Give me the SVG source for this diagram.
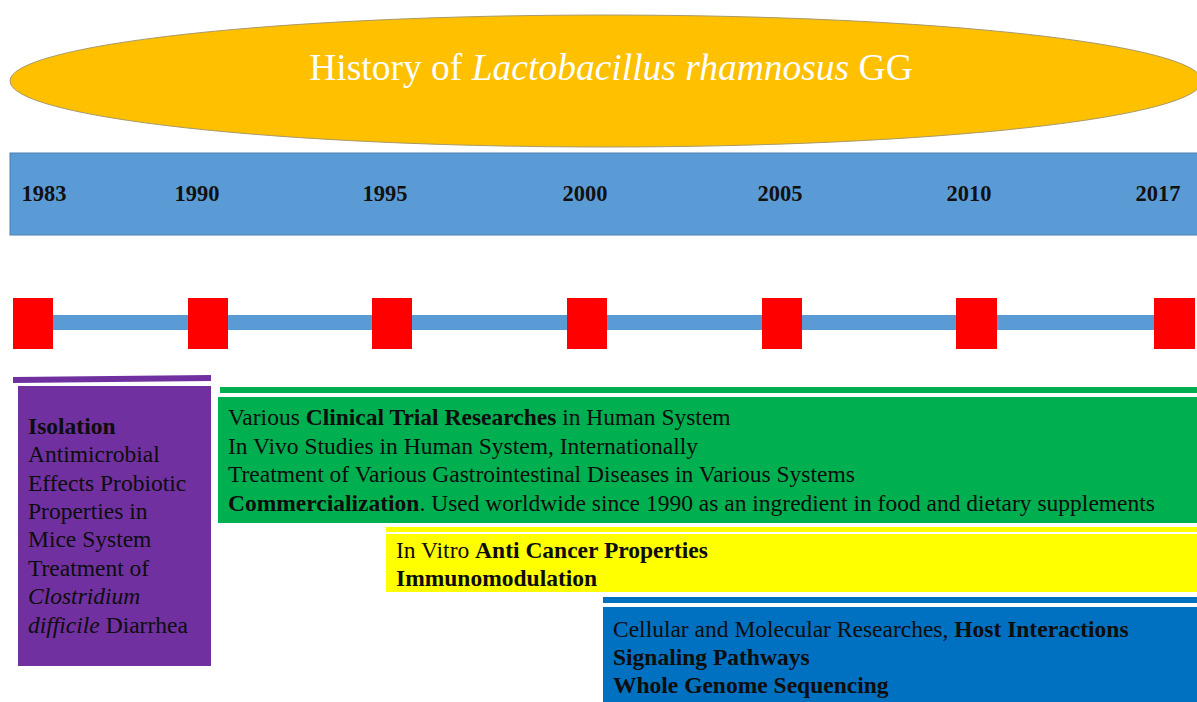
<svg xmlns="http://www.w3.org/2000/svg" width="1197" height="702" viewBox="0 0 1197 702">
<style>
.t{font-family:"Liberation Serif","Times New Roman","DejaVu Serif",serif;font-size:23.5px;fill:#0d0d0d}
.yr{font-family:"Liberation Serif","Times New Roman","DejaVu Serif",serif;font-size:22.5px;font-weight:bold;fill:#111}
.b{font-weight:bold}
.i{font-style:italic}
.sq{fill:#FF0000}
</style>
<rect width="1197" height="702" fill="#fff"/>
<g id="title">
<ellipse cx="606" cy="81" rx="596" ry="66" fill="#FFC000" stroke="#a89a6a" stroke-width="1"/>
<text x="611" y="80" text-anchor="middle" font-family="'Liberation Serif','Times New Roman',serif" font-size="37.5" fill="#fff">History of <tspan font-style="italic">Lactobacillus rhamnosus</tspan> GG</text>
</g>
<g id="years">
<rect x="10" y="153" width="1190" height="82" fill="#5B9BD5" stroke="#4a7fb0" stroke-width="1"/>
<text class="yr" x="44" y="201" text-anchor="middle">1983</text>
<text class="yr" x="197" y="201" text-anchor="middle">1990</text>
<text class="yr" x="385" y="201" text-anchor="middle">1995</text>
<text class="yr" x="585" y="201" text-anchor="middle">2000</text>
<text class="yr" x="780" y="201" text-anchor="middle">2005</text>
<text class="yr" x="969" y="201" text-anchor="middle">2010</text>
<text class="yr" x="1158" y="201" text-anchor="middle">2017</text>
</g>
<g id="timeline">
<rect x="40" y="315" width="1130" height="15" fill="#5B9BD5"/>
<rect class="sq" x="13" y="298" width="40" height="51"/>
<rect class="sq" x="188" y="298" width="40" height="51"/>
<rect class="sq" x="372" y="298" width="40" height="51"/>
<rect class="sq" x="567" y="298" width="40" height="51"/>
<rect class="sq" x="762" y="298" width="40" height="51"/>
<rect class="sq" x="956" y="298" width="41" height="51"/>
<rect class="sq" x="1154" y="298" width="41" height="51"/>
</g>
<g id="purple">
<polygon points="13,377 211,375 211,381 13,383" fill="#7030A0"/>
<rect x="18" y="386" width="193" height="280" fill="#7030A0"/>
<text class="t" x="28" y="434"><tspan class="b">Isolation</tspan></text>
<text class="t" x="28" y="462">Antimicrobial</text>
<text class="t" x="28" y="491">Effects Probiotic</text>
<text class="t" x="28" y="519">Properties in</text>
<text class="t" x="28" y="547">Mice System</text>
<text class="t" x="28" y="576">Treatment of</text>
<text class="t" x="28" y="604"><tspan class="i">Clostridium</tspan></text>
<text class="t" x="28" y="633"><tspan class="i">difficile</tspan> Diarrhea</text>
</g>
<g id="green">
<rect x="220" y="387" width="977" height="6" fill="#00B050"/>
<rect x="218" y="397" width="979" height="126" fill="#00B050"/>
<text class="t" x="228" y="425">Various <tspan class="b">Clinical Trial Researches</tspan> in Human System</text>
<text class="t" x="228" y="454">In Vivo Studies in Human System, Internationally</text>
<text class="t" x="228" y="482">Treatment of Various Gastrointestinal Diseases in Various Systems</text>
<text class="t" x="228" y="511"><tspan class="b">Commercialization</tspan>. Used worldwide since 1990 as an ingredient in food and dietary supplements</text>
</g>
<g id="yellow">
<rect x="386" y="527" width="811" height="5" fill="#FFFF00"/>
<rect x="386" y="534" width="811" height="58" fill="#FFFF00"/>
<text class="t" x="396" y="558">In Vitro <tspan class="b">Anti Cancer Properties</tspan></text>
<text class="t b" x="396" y="586">Immunomodulation</text>
</g>
<g id="blue">
<rect x="603" y="597" width="594" height="6" fill="#0070C0"/>
<rect x="603" y="607" width="594" height="95" fill="#0070C0"/>
<text class="t" x="613" y="637">Cellular and Molecular Researches, <tspan class="b">Host Interactions</tspan></text>
<text class="t b" x="613" y="665">Signaling Pathways</text>
<text class="t b" x="613" y="693">Whole Genome Sequencing</text>
</g>
</svg>
